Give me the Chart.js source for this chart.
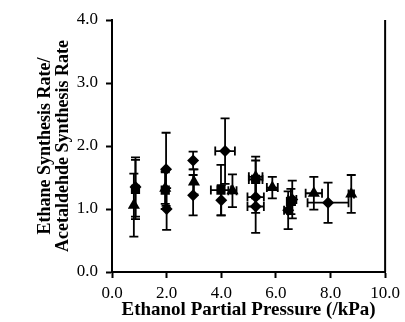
<!DOCTYPE html>
<html><head><meta charset="utf-8">
<script src="https://cdn.jsdelivr.net/npm/chart.js@4/dist/chart.umd.min.js"></script>
<style>html,body{margin:0;padding:0;background:#fff}#w{width:405px;height:322px}</style>
</head><body><div id="w"><canvas id="c"></canvas></div>
<script>
const xTickLabels = ['0.0','2.0','4.0','6.0','8.0','10.0'];
const yTickLabels = ['0.0','1.0','2.0','3.0','4.0'];

const diamondX    = [0.86, 1.98, 2.00, 2.97, 2.97, 4.14, 4.00, 5.26, 5.26, 6.45, 6.60, 7.91];
const diamondY    = [1.35, 1.63, 1.00, 1.77, 1.22, 1.92, 1.14, 1.19, 1.04, 0.98, 1.15, 1.10];
const diamondYErr = [0.47, 0.58, 0.33, 0.14, 0.32, 0.52, 0.24, 0.25, 0.42, 0.30, 0.30, 0.32];
const diamondXErr = [0,    0,    0,    0,    0,    0.36, 0.00, 0.30, 0.30, 0.15, 0.15, 0.75];

const squareX     = [0.86, 1.95, 3.99, 5.26, 6.55];
const squareY     = [1.31, 1.30, 1.30, 1.47, 1.12];
const squareYErr  = [0.47, 0.30, 0.40, 0.30, 0.20];
const squareXErr  = [0,    0,    0.37, 0.25, 0.15];

const triX        = [0.80, 1.95, 3.00, 4.41, 5.26, 5.87, 7.39, 8.76];
const triY        = [1.06, 1.33, 1.43, 1.29, 1.51, 1.34, 1.25, 1.24];
const triYErr     = [0.50, 0.25, 0.20, 0.26, 0.32, 0.17, 0.26, 0.30];
const triXErr     = [0,    0,    0,    0.15, 0.25, 0.20, 0.30, 0.10];

function pts(xs, ys, ye, xe){ return xs.map((x,i)=>({x:x, y:ys[i], ye:ye[i], xe:xe[i]})); }

const errorBars = {
  id:'errorBars',
  afterDatasetsDraw(chart){
    const ctx = chart.ctx, xs = chart.scales.x, ys = chart.scales.y;
    ctx.save();
    ctx.strokeStyle = '#000'; ctx.lineWidth = 1.8;
    chart.data.datasets.forEach(ds=>{
      ds.data.forEach(p=>{
        const px = xs.getPixelForValue(p.x), py = ys.getPixelForValue(p.y);
        const cap = 4.5;
        if (p.ye){
          const t = ys.getPixelForValue(p.y + p.ye), b = ys.getPixelForValue(p.y - p.ye);
          ctx.beginPath();
          ctx.moveTo(px, t); ctx.lineTo(px, b);
          ctx.moveTo(px-cap, t); ctx.lineTo(px+cap, t);
          ctx.moveTo(px-cap, b); ctx.lineTo(px+cap, b);
          ctx.stroke();
        }
        if (p.xe){
          const l = xs.getPixelForValue(p.x - p.xe), r = xs.getPixelForValue(p.x + p.xe);
          ctx.beginPath();
          ctx.moveTo(l, py); ctx.lineTo(r, py);
          ctx.moveTo(l, py-cap); ctx.lineTo(l, py+cap);
          ctx.moveTo(r, py-cap); ctx.lineTo(r, py+cap);
          ctx.stroke();
        }
      });
    });
    const a = chart.chartArea;
    ctx.lineWidth = 2;
    ctx.beginPath(); ctx.moveTo(a.right, a.top); ctx.lineTo(a.right, a.bottom); ctx.stroke();
    ctx.restore();
  }
};

const fam = '"Liberation Serif", "Times New Roman", serif';
const font = {family:fam, size:17};
const xTitleFont = {family:fam, size:19, weight:'bold', lineHeight:1.2};
const yTitleFont = {family:fam, size:18, weight:'bold', lineHeight:1.0};

new Chart(document.getElementById('c'), {
  type:'scatter',
  data:{datasets:[
    {data:pts(diamondX,diamondY,diamondYErr,diamondXErr), pointStyle:'rectRot', pointRadius:6, backgroundColor:'#000', borderColor:'#000', borderWidth:0},
    {data:pts(squareX,squareY,squareYErr,squareXErr), pointStyle:'rect', pointRadius:6.5, backgroundColor:'#000', borderColor:'#000', borderWidth:0},
    {data:pts(triX,triY,triYErr,triXErr), pointStyle:'triangle', pointRadius:7, backgroundColor:'#000', borderColor:'#000', borderWidth:0}
  ]},
  plugins:[errorBars],
  options:{
    responsive:true, maintainAspectRatio:false, animation:false,
    layout:{padding:{left:36, right:18, top:20, bottom:0}},
    plugins:{legend:{display:false}, tooltip:{enabled:false}},
    scales:{
      x:{type:'linear', min:0, max:10,
        ticks:{stepSize:2, color:'#000', font:font, padding:5, maxRotation:0,
          callback:(v)=>xTickLabels[Math.round(v/2)]},
        grid:{drawOnChartArea:false, tickLength:6, color:'#000', tickWidth:2},
        border:{color:'#000', width:2},
        title:{display:true, text:'Ethanol Partial Pressure (/kPa)', color:'#000', font:xTitleFont, padding:{top:0,bottom:1}},
        afterFit:(s)=>{s.height = 50;}
      },
      y:{type:'linear', min:0, max:4,
        ticks:{stepSize:1, color:'#000', font:font, padding:8,
          callback:(v)=>yTickLabels[Math.round(v)]},
        grid:{drawOnChartArea:false, tickLength:6, color:'#000', tickWidth:2},
        border:{color:'#000', width:2},
        title:{display:true, text:['Ethane Synthesis Rate/','Acetaldehde Synthesis Rate'], color:'#000', font:yTitleFont, padding:{top:0,bottom:0}},
        afterFit:(s)=>{s.width = 76;}
      }
    }
  }
});
</script></body></html>
